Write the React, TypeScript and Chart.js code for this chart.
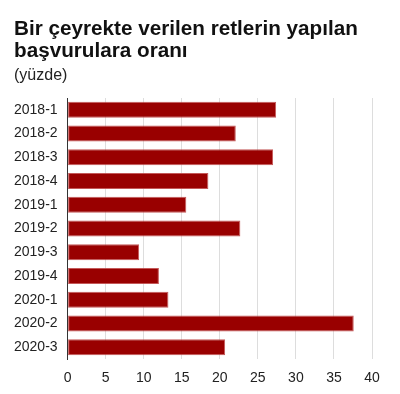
import React, { useEffect, useRef } from "react";
import { Chart, registerables } from "chart.js";

Chart.register(...registerables);

const categories = ["2018-1", "2018-2", "2018-3", "2018-4", "2019-1", "2019-2", "2019-3", "2019-4", "2020-1", "2020-2", "2020-3"];
const values = [27.4, 22.1, 27.0, 18.5, 15.6, 22.7, 9.4, 12.0, 13.25, 37.6, 20.7];
const titleLines = ["Bir çeyrekte verilen retlerin yapılan", "başvurulara oranı"];
const subtitleText = "(yüzde)";

const FONT = "'Liberation Sans', Arial, sans-serif";

export default function App() {
  const ref = useRef<HTMLCanvasElement | null>(null);
  useEffect(() => {
    document.body.style.margin = "0";
    const chart = new Chart(ref.current!, {
      type: "bar",
      data: {
        labels: categories,
        datasets: [
          {
            data: values,
            backgroundColor: "#990000",
            borderColor: "rgba(190,70,70,0.9)",
            borderWidth: 1,
            borderSkipped: false,
            barPercentage: 0.9,
            categoryPercentage: 0.75,
          },
        ],
      },
      options: {
        indexAxis: "y",
        animation: false,
        responsive: true,
        maintainAspectRatio: false,
        layout: { padding: { left: 4, right: 28, top: 98, bottom: 7 } },
        plugins: {
          legend: { display: false },
          tooltip: { enabled: false },
        },
        scales: {
          x: {
            min: 0,
            max: 40,
            afterFit: (scale: any) => {
              scale.height = 28;
            },
            ticks: {
              stepSize: 5,
              color: "#222",
              font: { family: FONT, size: 14 },
              padding: 11,
            },
            grid: { color: "#dddddd", lineWidth: 1, drawTicks: false },
            border: { display: false },
          },
          y: {
            ticks: {
              color: "#222",
              font: { family: FONT, size: 14 },
              padding: 10,
            },
            grid: { display: false, drawTicks: false },
            border: { display: true, color: "#333", width: 1 },
          },
        },
      },
    });
    return () => chart.destroy();
  }, []);
  return (
    <div style={{ width: 400, height: 394, position: "relative" }}>
      <canvas ref={ref} style={{ position: "absolute", left: 0, top: 0 }} />
      <div style={{ position: "absolute", left: 14, top: 16.5, fontFamily: FONT, color: "#111" }}>
        <div style={{ fontSize: 20.7, fontWeight: "bold", lineHeight: "22.5px" }}>
          {titleLines.map((t) => (
            <div key={t}>{t}</div>
          ))}
        </div>
        <div style={{ fontSize: 16, lineHeight: "18px", marginTop: 4, color: "#222" }}>{subtitleText}</div>
      </div>
    </div>
  );
}
